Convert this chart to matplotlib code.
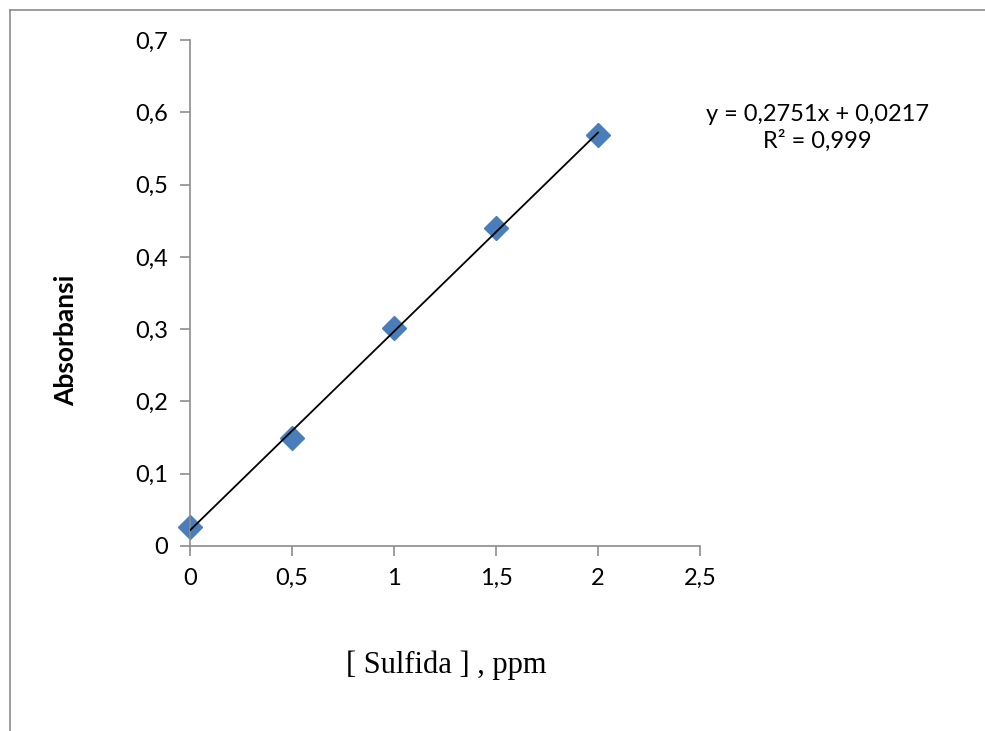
import numpy as np
from matplotlib import pyplot as plt
from matplotlib.lines import Line2D

# data
konsentrasi = [0, 0.5, 1, 1.5, 2]
absorbansi = [0.026, 0.149, 0.302, 0.440, 0.569]
slope = 0.2751
intercept = 0.0217
x_ticks = [0, 0.5, 1, 1.5, 2, 2.5]
y_ticks = [0, 0.1, 0.2, 0.3, 0.4, 0.5, 0.6, 0.7]

def koma(v):
    s = f"{v:g}"
    return s.replace('.', ',')

fig = plt.figure(figsize=(9.85, 7.31), dpi=100)
ax = fig.add_axes([190 / 985, 1 - 546 / 731, 510 / 985, 506 / 731])

# frame around chart area (only top and left visible)
fig.add_artist(Line2D([10 / 985, 10 / 985], [0, 1 - 10 / 731], color='#8c8c8c', lw=1.2))
fig.add_artist(Line2D([10 / 985, 1], [1 - 10 / 731, 1 - 10 / 731], color='#8c8c8c', lw=1.2))

xx = np.array([konsentrasi[0], konsentrasi[-1]])
ax.plot(xx, slope * xx + intercept, color='black', lw=1.3, zorder=3)
ax.plot(konsentrasi, absorbansi, linestyle='none', marker='D', markersize=12,
        color='#4a7ebb', zorder=2, clip_on=False)

ax.set_xlim(0, 2.5)
ax.set_ylim(0, 0.7)
ax.set_xticks(x_ticks)
ax.set_yticks(y_ticks)
ax.set_xticklabels([koma(v) for v in x_ticks])
ax.set_yticklabels([koma(v) for v in y_ticks])

for s in ['top', 'right']:
    ax.spines[s].set_visible(False)
for s in ['left', 'bottom']:
    ax.spines[s].set_color('#8c8c8c')
    ax.spines[s].set_linewidth(1.2)
ax.tick_params(direction='out', length=7, width=1.2, color='#8c8c8c',
               labelsize=17, pad=9)
for lab in ax.get_xticklabels() + ax.get_yticklabels():
    lab.set_family('Lato')

fig.text(817 / 985, 1 - 128 / 731, 'y = 0,2751x + 0,0217\nR² = 0,999',
         ha='center', va='center', fontsize=17, family='Lato', linespacing=1.3)
fig.text(446 / 985, 1 - 665 / 731, '[ Sulfida ] , ppm', ha='center', va='center',
         fontsize=22, family='Liberation Serif')
fig.text(66 / 985, 1 - 340 / 731, 'Absorbansi', rotation=90, ha='center', va='center',
         fontsize=19, fontweight='bold', family='Lato')

fig.savefig('out.png', dpi=100)
